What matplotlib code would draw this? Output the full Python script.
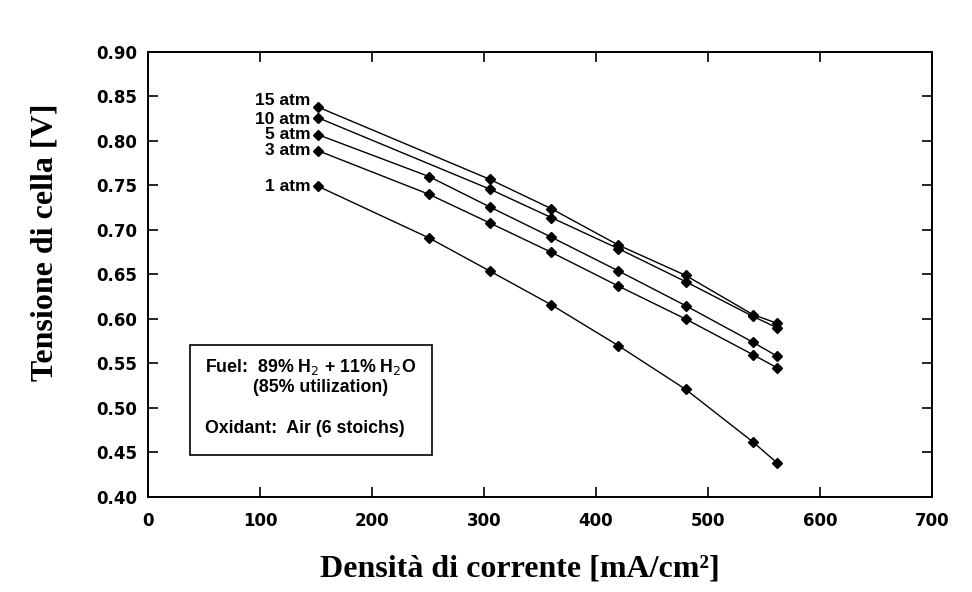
import matplotlib.pyplot as plt
from matplotlib.patches import Rectangle

# Current density [mA/cm2] and cell voltage [V] per pressure
x_1 = [152, 251, 305, 360, 420, 480, 540, 562]
y_1 = [0.749, 0.691, 0.654, 0.616, 0.570, 0.521, 0.462, 0.438]

x_3 = [152, 251, 305, 360, 420, 480, 540, 562]
y_3 = [0.789, 0.740, 0.708, 0.675, 0.637, 0.600, 0.560, 0.545]

x_5 = [152, 251, 305, 360, 420, 480, 540, 562]
y_5 = [0.807, 0.760, 0.726, 0.692, 0.654, 0.615, 0.574, 0.558]

x_10 = [152, 305, 360, 420, 480, 540, 562]
y_10 = [0.826, 0.746, 0.714, 0.679, 0.642, 0.603, 0.590]

x_15 = [152, 305, 360, 420, 480, 540, 562]
y_15 = [0.838, 0.757, 0.724, 0.683, 0.649, 0.605, 0.595]

labels = ['1 atm', '3 atm', '5 atm', '10 atm', '15 atm']
series = [(x_1, y_1), (x_3, y_3), (x_5, y_5), (x_10, y_10), (x_15, y_15)]
# small vertical nudges so the crowded labels don't collide
label_shift = [0.0, 0.0, 0.0, -0.002, 0.008]

sans = ['Liberation Sans', 'DejaVu Sans']
serif = ['Liberation Serif', 'DejaVu Serif']

fig = plt.figure(figsize=(9.72, 5.92), dpi=100)
ax = fig.add_axes([0.1523, 0.1605, 0.8065, 0.7517])

for (xs, ys), lab, dy in zip(series, labels, label_shift):
    ax.plot(xs, ys, color='black', linewidth=1.0, marker='D', markersize=5.5)
    ax.text(xs[0] - 7, ys[0] + dy, lab, ha='right', va='center',
            fontsize=12.5, fontweight='bold', family=sans)

ax.set_xlim(0, 700)
ax.set_ylim(0.40, 0.90)
ax.set_xticks(range(0, 701, 100))
ax.set_yticks([0.40 + 0.05 * i for i in range(11)])
ax.set_yticklabels([f'{0.40 + 0.05 * i:.2f}' for i in range(11)])
ax.tick_params(direction='in', length=7, width=1.2, top=True, right=True,
               labelsize=12)
ax.tick_params(axis='x', pad=11)
ax.tick_params(axis='y', pad=8)
for lab in ax.get_xticklabels() + ax.get_yticklabels():
    lab.set_fontweight('bold')
    lab.set_family('DejaVu Sans')
for s in ax.spines.values():
    s.set_linewidth(1.4)

# info box
ax.add_patch(Rectangle((37.5, 0.447), 216.5, 0.124, fill=False,
                       edgecolor='black', linewidth=1.2))
ax.text(51, 0.546, 'Fuel:  89% H$_2$ + 11% H$_2$O', fontsize=12.8,
        fontweight='bold', family=sans, va='center')
ax.text(94, 0.523, '(85% utilization)', fontsize=12.8,
        fontweight='bold', family=sans, va='center')
ax.text(51, 0.477, 'Oxidant:  Air (6 stoichs)', fontsize=12.8,
        fontweight='bold', family=sans, va='center')

fig.text(0.046, 0.59, 'Tensione di cella [V]', rotation=90, ha='center',
         va='center', fontsize=23, fontweight='bold', family=serif)
fig.text(0.535, 0.027, 'Densità di corrente [mA/cm²]', ha='center',
         va='baseline', fontsize=23, fontweight='bold', family=serif)

fig.savefig('out.png', dpi=100)
